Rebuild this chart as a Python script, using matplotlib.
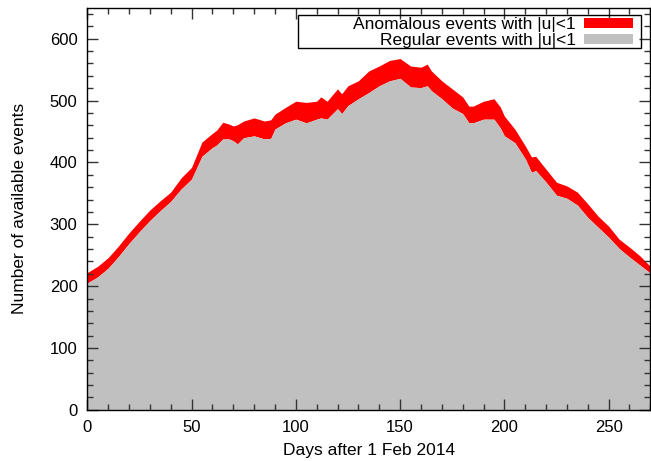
import matplotlib
matplotlib.use("Agg")
import matplotlib.pyplot as plt
from matplotlib.patches import Rectangle
from matplotlib.ticker import MultipleLocator

plt.rcParams['font.family'] = ['Liberation Sans', 'DejaVu Sans']

# days after 1 Feb 2014
days = [0, 5, 10, 15, 20, 25, 30, 35, 40, 45, 50, 55, 60, 62, 65, 68, 70, 72,
        75, 80, 85, 88, 90, 95, 100, 105, 110, 112, 115, 120, 122, 125, 130,
        135, 140, 145, 150, 155, 160, 163, 165, 170, 175, 180, 183, 185, 190,
        195, 198, 200, 205, 210, 213, 215, 220, 225, 230, 235, 240, 245, 250,
        255, 260, 265, 270]

# regular events with |u|<1
regular = [205, 215, 229, 248, 269, 288, 306, 322, 337, 357, 373, 410, 424,
           428, 438, 438, 435, 430, 440, 443, 438, 439, 454, 464, 470, 464,
           470, 472, 470, 487, 479, 492, 503, 513, 524, 532, 536, 522, 521,
           524, 516, 503, 488, 479, 464, 464, 470, 470, 456, 443, 432, 406,
           384, 387, 368, 347, 342, 331, 311, 295, 279, 261, 247, 234, 221]

# regular + anomalous events with |u|<1
total = [222, 232, 246, 265, 286, 305, 323, 338, 352, 375, 392, 433, 447,
         452, 465, 462, 459, 461, 467, 472, 467, 469, 478, 489, 499, 497,
         499, 506, 499, 519, 511, 524, 532, 548, 556, 565, 568, 556, 554,
         559, 548, 532, 519, 506, 491, 491, 499, 503, 490, 475, 454, 427,
         409, 410, 389, 368, 362, 352, 333, 313, 297, 276, 263, 249, 232]

W, H = 651, 461
fig = plt.figure(figsize=(W / 100, H / 100), dpi=100)
ax = fig.add_axes([0.134, 0.111, 0.865, 0.872])

ax.fill_between(days, regular, total, color='#ff0000', lw=0,
                label='Anomalous events with |u|<1')
ax.fill_between(days, 0, regular, color='#c0c0c0', lw=0,
                label='Regular events with |u|<1')

ax.set_xlim(0, 270)
ax.set_ylim(0, 650)
ax.xaxis.set_major_locator(MultipleLocator(50))
ax.xaxis.set_minor_locator(MultipleLocator(10))
ax.yaxis.set_major_locator(MultipleLocator(100))
ax.yaxis.set_minor_locator(MultipleLocator(20))
ax.tick_params(which='both', direction='in', top=True, right=True,
               labelsize=12, color='#333333')
ax.tick_params(which='major', length=8, width=1)
ax.tick_params(which='minor', length=4, width=1)
ax.tick_params(axis='x', pad=7)
ax.tick_params(axis='y', pad=7)
for s in ax.spines.values():
    s.set_linewidth(1)

ax.set_xlabel('Days after 1 Feb 2014', fontsize=12.5, labelpad=6)
ax.set_ylabel('Number of available events', fontsize=12.5, labelpad=16)

# gnuplot style key: text right aligned, sample on the right
leg = fig.legend(*ax.get_legend_handles_labels(), loc='upper right',
                 bbox_to_anchor=(633 / W, 1 - 17 / H), markerfirst=False,
                 fontsize=12.5, frameon=False, borderpad=0, borderaxespad=0,
                 labelspacing=0.06, handlelength=2.8, handleheight=0.52,
                 handletextpad=0.5)
for t in leg.get_texts():
    t.set_ha('right')
fig.add_artist(Rectangle((298 / W, 1 - 48 / H), 343 / W, 33 / H,
                         transform=fig.transFigure, fill=False,
                         edgecolor='black', lw=1))

fig.savefig('out.png', dpi=100)
